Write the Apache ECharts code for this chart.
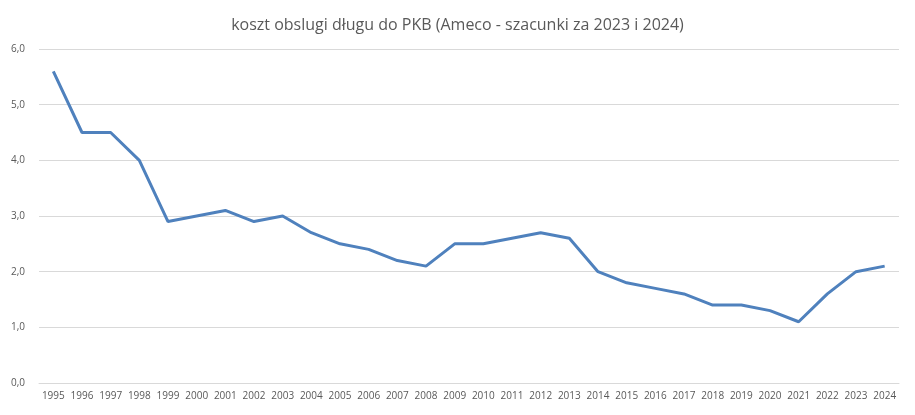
<!DOCTYPE html>
<html><head><meta charset="utf-8">
<script src="https://cdn.jsdelivr.net/npm/echarts@6/dist/echarts.min.js"></script>
<style>html,body{margin:0;padding:0;background:#fff}#c{width:915px;height:415px}</style>
</head><body><div id="c"></div>
<script>
const titleText = 'koszt obslugi długu do PKB (Ameco - szacunki za 2023 i 2024)';
const years = ['1995','1996','1997','1998','1999','2000','2001','2002','2003','2004','2005','2006','2007','2008','2009','2010','2011','2012','2013','2014','2015','2016','2017','2018','2019','2020','2021','2022','2023','2024'];
const values = [5.6,4.5,4.5,4.0,2.9,3.0,3.1,2.9,3.0,2.7,2.5,2.4,2.2,2.1,2.5,2.5,2.6,2.7,2.6,2.0,1.8,1.7,1.6,1.4,1.4,1.3,1.1,1.6,2.0,2.1];
const chart = echarts.init(document.getElementById('c'));
chart.setOption({
  animation:false,
  textStyle:{fontFamily:'Open Sans, sans-serif'},
  title:{text:titleText,left:'center',top:12,textStyle:{fontSize:16,fontWeight:'normal',color:'#595959'}},
  grid:{left:39,right:16,top:49,bottom:32},
  xAxis:{type:'category',data:years,boundaryGap:true,
    axisLine:{lineStyle:{color:'#d9d9d9'}},axisTick:{show:false},
    axisLabel:{color:'#595959',fontSize:10,interval:0,margin:8}},
  yAxis:{type:'value',min:0,max:6,interval:1,
    axisLabel:{color:'#595959',fontSize:10,formatter:v=>v.toFixed(1).replace('.',','),margin:14},
    splitLine:{lineStyle:{color:'#d9d9d9'}},axisLine:{show:false},axisTick:{show:false}},
  series:[{type:'line',data:values,symbol:'none',lineStyle:{color:'#4f81bd',width:3}}]
});
</script></body></html>
